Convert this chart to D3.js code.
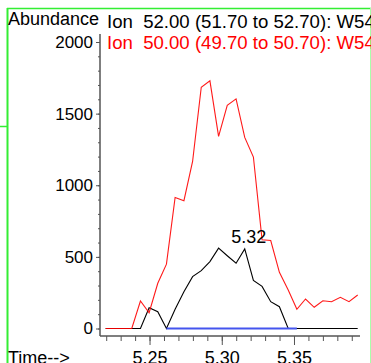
<!DOCTYPE html>
<html>
<head>
<meta charset="utf-8">
<script src="https://cdn.jsdelivr.net/npm/d3@7"></script>
<style>
  html, body { margin: 0; padding: 0; background: #fff; overflow: hidden; }
  svg { display: block; font-family: 'Liberation Sans', Arial, sans-serif; }
</style>
</head>
<body>
<svg id="chart" width="371" height="363"></svg>
<script>
// scan times (min) and abundances
const scanTimes = [5.2196, 5.2256, 5.2316, 5.2377, 5.2437, 5.2497, 5.2557, 5.2617, 5.2677, 5.2738,
  5.2798, 5.2858, 5.2918, 5.2978, 5.3038, 5.3099, 5.3159, 5.3219, 5.3279, 5.3339,
  5.3399, 5.3460, 5.3520, 5.3580, 5.3640, 5.3700, 5.3760, 5.3821, 5.3881, 5.3941]
const ion52 = [0, 0, 0, 0, 0, 145, 117, 0, 134, 257, 362, 404, 467, 561, 508, 456, 556, 336, 294, 187,
  152, 0, 0, 0, 0, 0, 0, 0, 0, 0]
const ion50 = [0, 0, 0, 0, 192, 110, 316, 449, 915, 892, 1166, 1684, 1729, 1341, 1558, 1603, 1334, 1197, 619, 614,
  392, 269, 134, 206, 148, 194, 187, 218, 187, 234]
const baselineTimes = [5.2617, 5.3520]
const baselineValues = [0, 0]
const peakTime = 5.3159
const peakValue = 556
const peakLabel = '5.32'
const yMajorTicks = [0, 500, 1000, 1500, 2000]
const xMajorTicks = [5.25, 5.30, 5.35]
const legendLines = ['Ion  52.00 (51.70 to 52.70): W54', 'Ion  50.00 (49.70 to 50.70): W54']

const svg = d3.select('#chart')
const x = d3.scaleLinear().domain([5.2157, 5.3957]).range([100, 360])
const y = d3.scaleLinear().domain([0, 2000]).range([328.5, 42])
const axisY = 336
const axisColor = '#555'

// green frame
svg.append('line').attr('x1', 7.5).attr('x2', 7.5).attr('y1', 8).attr('y2', 363).attr('stroke', '#33ee33').attr('stroke-width', 2)
svg.append('line').attr('x1', 7).attr('x2', 371).attr('y1', 8.5).attr('y2', 8.5).attr('stroke', '#33ee33').attr('stroke-width', 1.5)
svg.append('line').attr('x1', 370.5).attr('x2', 370.5).attr('y1', 8).attr('y2', 363).attr('stroke', '#aaffaa').attr('stroke-width', 1)
svg.append('line').attr('x1', 0).attr('x2', 7).attr('y1', 126.5).attr('y2', 126.5).attr('stroke', '#33ee33').attr('stroke-width', 1.5)

// y axis
const yAxis = d3.axisLeft(y).tickValues(d3.range(0, 2001, 100)).tickSize(2).tickFormat('')
const gy = svg.append('g').attr('transform', 'translate(100,0)').call(yAxis)
gy.select('.domain').remove()
gy.selectAll('.tick line').attr('stroke', axisColor)
const gyMajor = svg.append('g').attr('transform', 'translate(100,0)')
  .call(d3.axisLeft(y).tickValues(yMajorTicks).tickSize(4).tickPadding(3).tickFormat(d3.format('d')))
gyMajor.select('.domain').remove()
gyMajor.selectAll('.tick line').attr('stroke', axisColor)
gyMajor.selectAll('.tick text').attr('fill', '#000').attr('font-size', 17).attr('font-family', "'Liberation Sans', Arial, sans-serif")

// x axis
const gx = svg.append('g').attr('transform', `translate(0,${axisY})`)
  .call(d3.axisBottom(x).tickValues(d3.range(5.22, 5.395, 0.01)).tickSize(5).tickFormat(''))
gx.select('.domain').remove()
gx.selectAll('.tick line').attr('stroke', axisColor)
const gxMajor = svg.append('g').attr('transform', `translate(0,${axisY})`)
  .call(d3.axisBottom(x).tickValues(xMajorTicks).tickSize(9).tickPadding(6).tickFormat(d3.format('.2f')))
gxMajor.select('.domain').remove()
gxMajor.selectAll('.tick line').attr('stroke', axisColor)
gxMajor.selectAll('.tick text').attr('fill', '#000').attr('font-size', 18).attr('font-family', "'Liberation Sans', Arial, sans-serif")

svg.append('line').attr('x1', 100).attr('x2', 100).attr('y1', 34).attr('y2', axisY).attr('stroke', axisColor).attr('stroke-width', 1.5)
svg.append('line').attr('x1', 100).attr('x2', 360).attr('y1', axisY).attr('y2', axisY).attr('stroke', axisColor).attr('stroke-width', 1.5)

// traces
const line = d3.line().x((d) => x(d[0])).y((d) => y(d[1]))
svg.append('path').datum(scanTimes.map((t, i) => [t, ion52[i]])).attr('fill', 'none').attr('stroke', '#000').attr('stroke-width', 1.1).attr('d', line)
svg.append('path').datum(scanTimes.map((t, i) => [t, ion50[i]])).attr('fill', 'none').attr('stroke', '#ff0000').attr('stroke-width', 1.1).attr('opacity', 0.9).attr('d', line)
svg.append('path').datum(baselineTimes.map((t, i) => [t, baselineValues[i]])).attr('fill', 'none').attr('stroke', '#4455ee').attr('stroke-width', 2).attr('d', line)

svg.append('text').attr('x', x(peakTime) + 4).attr('y', y(peakValue) - 6).attr('text-anchor', 'middle').attr('font-size', 18).attr('fill', '#000').text(peakLabel)

// header texts
svg.append('text').attr('x', 8).attr('y', 25).attr('font-size', 18).attr('fill', '#000').text('Abundance')
svg.selectAll('.legend').data(legendLines).join('text').attr('class', 'legend')
  .attr('x', 107).attr('y', (d, i) => 28 + i * 21).attr('font-size', 18.6)
  .attr('fill', (d, i) => (i === 0 ? '#000' : '#ff0000'))
  .style('white-space', 'pre').text((d) => d)

svg.append('text').attr('x', 8).attr('y', 364).attr('font-size', 18).attr('fill', '#000').text('Time-->')
</script>
</body>
</html>
